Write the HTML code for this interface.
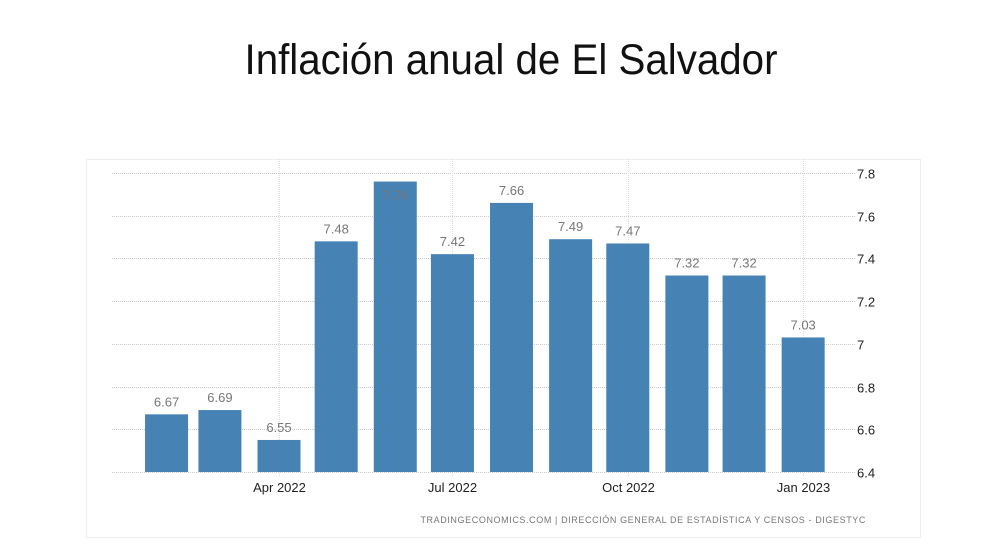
<!DOCTYPE html>
<html><head><meta charset="utf-8"><style>
html,body{margin:0;padding:0;background:#fff;width:1000px;height:546px;overflow:hidden}
</style></head><body>
<svg id="chart" width="1000" height="546" xmlns="http://www.w3.org/2000/svg" font-family="'Liberation Sans', sans-serif">
<text x="511" y="74" text-anchor="middle" font-size="43" fill="#111" textLength="533" lengthAdjust="spacingAndGlyphs">Inflación anual de El Salvador</text>
<rect x="86.5" y="159.5" width="834" height="378" fill="none" stroke="#eee"/>
<g id="grid"></g><g id="bars"></g><g id="labels"></g>
<text x="866" y="523" text-anchor="end" font-size="9" fill="#777" letter-spacing="0.6">TRADINGECONOMICS.COM  |  DIRECCIÓN GENERAL DE ESTADÍSTICA Y CENSOS - DIGESTYC</text>
</svg>
<script>
const months = ["2022-02","2022-03","2022-04","2022-05","2022-06","2022-07","2022-08","2022-09","2022-10","2022-11","2022-12","2023-01"];
const values = [6.67,6.69,6.55,7.48,7.76,7.42,7.66,7.49,7.47,7.32,7.32,7.03];
const yTicks = [6.4,6.6,6.8,7,7.2,7.4,7.6,7.8];
const xTickDates = ["2022-04","2022-07","2022-10","2023-01"];
const xTickLabels = ["Apr 2022","Jul 2022","Oct 2022","Jan 2023"];

const NS="http://www.w3.org/2000/svg";
const y0=6.4,y1=7.8,py0=472,py1=173;
function yScale(v){return py0+(v-y0)*(py1-py0)/(y1-y0);}
const ref=Date.UTC(2022,3,1);
function xScale(m){const [yy,mm]=m.split("-").map(Number);return 279+(Date.UTC(yy,mm-1,1)-ref)/864e5*1.906;}
function mk(tag,attrs,parent){const e=document.createElementNS(NS,tag);for(const k in attrs)e.setAttribute(k,attrs[k]);parent.appendChild(e);return e;}
const grid=document.getElementById('grid'),bars=document.getElementById('bars'),labels=document.getElementById('labels');
yTicks.forEach(t=>{const y=Math.round(yScale(t))+0.5;
 const l=mk('line',{x1:112,x2:855,y1:y,y2:y,stroke:'#ccc','stroke-dasharray':'1,1'},grid);
 
 
 const tx=mk('text',{x:857,y:y+5,'font-size':13,fill:'#222'},labels);tx.textContent=String(t);
 
 
});
xTickDates.forEach((d,i)=>{const x=Math.round(xScale(d))+0.5;
 const l=mk('line',{x1:x,x2:x,y1:159,y2:476,stroke:'#ddd','stroke-dasharray':'1,1'},grid);
 
 
 const tx=mk('text',{x:x,y:492,'font-size':13,fill:'#222','text-anchor':'middle'},labels);tx.textContent=xTickLabels[i];
 
 
});
months.forEach((m,i)=>{const cx=xScale(m),y=yScale(values[i]);
 const r=mk('rect',{x:cx-21.5,y:y,width:43,height:py0-y,fill:'#4682b4'},bars);
 
 
 const inside=values[i]>=7.7;
 const tx=mk('text',{x:cx,y:inside?y+18:y-8,'font-size':13,fill:'#777','text-anchor':'middle'},labels);tx.textContent=values[i].toFixed(2);
 
 
});
</script>
</body></html>
